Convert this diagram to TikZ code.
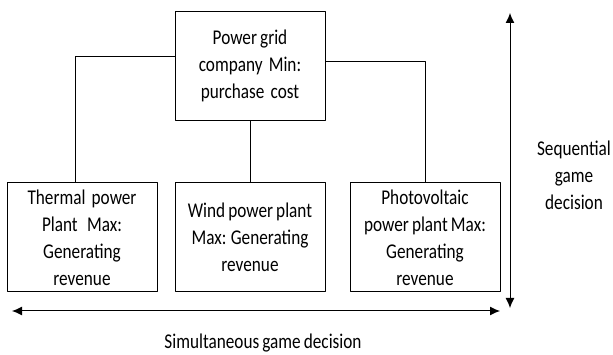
\documentclass[tikz,border=0pt]{standalone}
\usepackage{fontspec}
\setmainfont{Carlito}[FakeStretch=0.82,WordSpace=0.8]
\usetikzlibrary{arrows.meta}
\begin{document}
\begin{tikzpicture}[x=1pt,y=-1pt,line join=round,line width=1pt,>={Latex[length=10pt,width=9pt]}]
	\tikzset{box/.style={draw,minimum width=150pt,minimum height=109pt,align=center,inner sep=0pt,font=\fontsize{21}{27}\selectfont},
		lbl/.style={align=center,font=\fontsize{21}{27}\selectfont}}
	\useasboundingbox (0,0) rectangle (613,355);
	% boxes
	\node[box] (grid) at (250,66) {Power grid\\company~ Min:\\purchase~ cost};
	\node[box] (thermal) at (82,237.5) {Thermal~ power\\Plant~~ Max:\\Generating\\revenue};
	\node[box] (wind) at (250,237.5) {Wind power plant\\Max: Generating\\revenue};
	\node[box] (pv) at (425,237.5) {Photovoltaic\\power plant Max:\\Generating\\revenue};
	% links
	\draw ([yshift=9pt]grid.west) -| ([xshift=-7pt]thermal.north);
	\draw (grid.south) -- (wind.north);
	\draw ([yshift=4pt]grid.east) -| (pv.north);
	% arrows
	\coordinate (hl) at (12,311);
	\coordinate (hr) at (500,311);
	\coordinate (vt) at (510,13);
	\coordinate (vb) at (510,308);
	\draw[<->] (hl) -- (hr);
	\draw[<->] (vt) -- (vb);
	\node[lbl] (simul) at (263,343) {Simultaneous game decision};
	\node[lbl] (seq) at (574,175) {Sequential\\game\\decision};
\end{tikzpicture}
\end{document}
